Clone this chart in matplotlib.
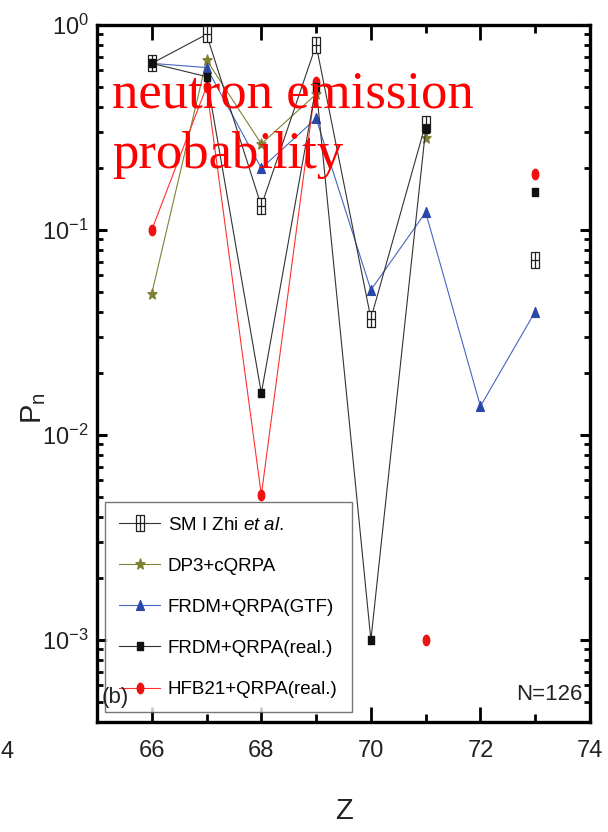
import numpy as np
import matplotlib
matplotlib.use('Agg')
import matplotlib.pyplot as plt
from matplotlib.path import Path
from matplotlib.transforms import Affine2D
from matplotlib.ticker import FixedLocator, LogLocator, NullFormatter

plt.rcParams['font.family'] = ['Liberation Sans', 'DejaVu Sans']
plt.rcParams['mathtext.fontset'] = 'custom'
plt.rcParams['mathtext.rm'] = 'Liberation Sans'
plt.rcParams['mathtext.it'] = 'Liberation Sans:italic'
plt.rcParams['axes.unicode_minus'] = False

# data (nan = no value at that Z)
nan = np.nan
Z = [66, 67, 68, 69, 70, 71, 72, 73]
sm_zhi = [0.65, 0.90, 0.131, 0.80, 0.037, 0.33, nan, 0.071]
dp3_cqrpa = [0.049, 0.675, 0.263, 0.46, nan, 0.28, nan, nan]
frdm_gtf = [0.65, 0.62, 0.20, 0.35, 0.051, 0.122, 0.0138, 0.040]
frdm_real = [0.65, 0.56, 0.016, 0.50, 0.001, 0.31, nan, 0.153]
hfb21_real = [0.10, 0.50, 0.0051, 0.53, nan, 0.001, nan, 0.187]

labels = ['SM I Zhi $\\it{et\\ al.}$', 'DP3+cQRPA', 'FRDM+QRPA(GTF)',
          'FRDM+QRPA(real.)', 'HFB21+QRPA(real.)']
x_ticks = [66, 68, 70, 72, 74]
y_ticks = [1e-3, 1e-2, 1e-1, 1e0]


# the original figure is squeezed sideways, so the markers are tall and narrow
def box_cross(w):
    verts = [(-w, -1), (w, -1), (w, 1), (-w, 1), (-w, -1),
             (0, -1), (0, 1), (-w, 0), (w, 0)]
    codes = [Path.MOVETO, Path.LINETO, Path.LINETO, Path.LINETO, Path.CLOSEPOLY,
             Path.MOVETO, Path.LINETO, Path.MOVETO, Path.LINETO]
    return Path(verts, codes)


def squeeze(path, sx):
    return path.transformed(Affine2D().scale(sx, 1))


sm_marker = box_cross(0.55)
rect_marker = squeeze(Path.unit_rectangle().transformed(Affine2D().translate(-0.5, -0.5)), 0.62)
tri_marker = Path([(-0.8, -1), (0.8, -1), (0, 1), (-0.8, -1)],
                  [Path.MOVETO, Path.LINETO, Path.LINETO, Path.CLOSEPOLY])
dot_marker = squeeze(Path.unit_circle(), 0.62)
star_marker = squeeze(Path.unit_regular_star(5, 0.42), 0.85)

fig = plt.figure(figsize=(6.08, 8.32), dpi=100)
ax = fig.add_axes([97 / 608, 1 - 722 / 832, 493 / 608, 697 / 832])

ax.plot(Z, sm_zhi, color='#333333', lw=0.8, marker=sm_marker, ms=11,
        mfc='white', mec='#222222', mew=0.9, label=labels[0], zorder=3)
ax.plot(Z, dp3_cqrpa, color='#808035', lw=0.8, marker=star_marker, ms=8,
        mfc='#808035', mec='#808035', label=labels[1], zorder=2)
ax.plot(Z, frdm_gtf, color='#4466c0', lw=0.8, marker=tri_marker, ms=7,
        mfc='#2a48a8', mec='#2a48a8', label=labels[2], zorder=2)
ax.plot(Z, frdm_real, color='#333333', lw=0.8, marker=rect_marker, ms=6,
        mfc='#111111', mec='#111111', label=labels[3], zorder=4)
ax.plot(Z, hfb21_real, color='#ff3030', lw=0.8, marker=dot_marker, ms=7.5,
        mfc='#ee1111', mec='#ee1111', label=labels[4], zorder=2)

ax.set_yscale('log')
ax.set_xlim(65, 74)
ax.set_ylim(10 ** -3.4, 1)

ax.xaxis.set_major_locator(FixedLocator(x_ticks))
ax.xaxis.set_minor_locator(FixedLocator([67, 69, 71, 73]))
ax.yaxis.set_major_locator(FixedLocator(y_ticks))
ax.yaxis.set_minor_locator(LogLocator(base=10, subs=np.arange(2, 10)))
ax.yaxis.set_minor_formatter(NullFormatter())

ax.tick_params(which='both', direction='in', top=True, right=True,
               labelsize=17, labelcolor='#222222')
ax.tick_params(axis='x', which='major', length=11, width=2, pad=13)
ax.tick_params(axis='x', which='minor', length=6, width=2)
ax.tick_params(axis='y', which='major', length=7, width=2.2, pad=6)
ax.tick_params(axis='y', which='minor', length=4, width=2)
for sp in ax.spines.values():
    sp.set_linewidth(2.4)

ax.set_xlabel('Z', fontsize=21, color='#222222', va='top')
ax.xaxis.set_label_coords(0.5, -0.108)
ax.set_ylabel('P$_{\\rm n}$', fontsize=21, color='#222222')
ax.yaxis.set_label_coords(-0.10, 0.45)

leg = ax.legend(loc='lower left', bbox_to_anchor=(0.016, 0.014), borderaxespad=0,
                fontsize=13.5, frameon=True, fancybox=False, edgecolor='#555555',
                handlelength=2.2, handletextpad=0.4, labelspacing=1.28,
                borderpad=0.75, numpoints=1)
leg.get_frame().set_linewidth(1.0)
leg.set_zorder(5)

ax.text(0.010, 0.027, '(b)', transform=ax.transAxes, fontsize=16,
        va='baseline', ha='left', color='#222222', zorder=6)
ax.text(0.984, 0.032, 'N=126', transform=ax.transAxes, fontsize=16,
        va='baseline', ha='right', color='#222222', zorder=6)

# only the "4" of the cut-off "64" label shows at the left edge of the original
fig.text(0.5 / 608, 1 - 752 / 832, '4', fontsize=17, ha='left', va='center',
         color='#222222')

fig.text(112 / 608, 1 - 108 / 832, 'neutron emission', fontsize=38,
         family='Liberation Serif', color='red', va='baseline')
fig.text(112 / 608, 1 - 168 / 832, 'probability', fontsize=38,
         family='Liberation Serif', color='red', va='baseline')

fig.savefig('out.png', dpi=100)
